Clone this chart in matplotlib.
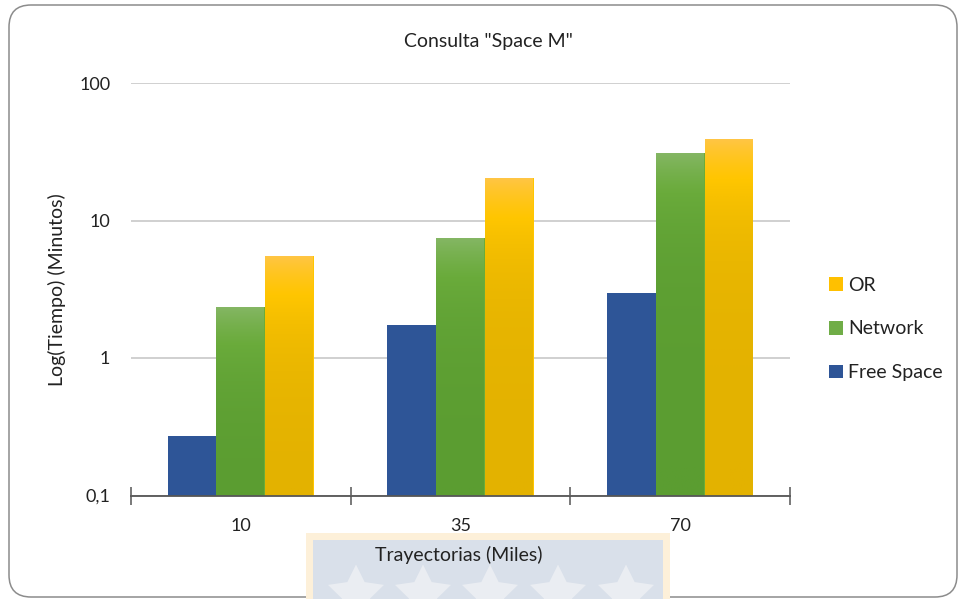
import numpy as np
import matplotlib
matplotlib.use("Agg")
import matplotlib.pyplot as plt
from matplotlib.patches import FancyBboxPatch, Rectangle, Patch
from matplotlib.colors import LinearSegmentedColormap

plt.rcParams['font.family'] = ['Lato', 'DejaVu Sans']

categories = ["10", "35", "70"]
series_names = ["Free Space", "Network", "OR"]
free_space = [0.273, 1.74, 2.95]
network = [2.36, 7.50, 31.1]
or_values = [5.52, 20.3, 39.0]
y_ticks = [0.1, 1, 10, 100]
y_tick_labels = ["0,1", "1", "10", "100"]
base = 0.1

W, H = 961, 599
fig = plt.figure(figsize=(W / 100, H / 100), dpi=100)

# background layer in pixel coordinates: chart frame and crest behind the axis title
bg = fig.add_axes([0, 0, 1, 1], zorder=0)
bg.set_xlim(0, W)
bg.set_ylim(H, 0)
bg.axis("off")
bg.add_patch(FancyBboxPatch((9, 5), 948, 592, boxstyle="round,pad=0,rounding_size=22",
                            facecolor="white", edgecolor="#8c8c8c", linewidth=1.1))
bg.add_patch(Rectangle((306, 533), 364, 80, facecolor="#fdf0d9", edgecolor="none"))
bg.add_patch(Rectangle((313, 540), 350, 80, facecolor="#d9e0ea", edgecolor="none"))
star_x = [356, 423, 490, 558, 626]
bg.scatter(star_x, [594] * len(star_x), marker=(5, 1, 0), s=1800,
           color="#eaedf2", edgecolors="none")

ax = fig.add_axes([131 / W, 1 - 495.5 / H, (790 - 131) / W, (495.5 - 83) / H], zorder=1)
ax.patch.set_alpha(0)
ax.set_yscale("log")

x = np.arange(len(categories))
w = 1 / 4.5

green_cmap = LinearSegmentedColormap.from_list("g", ["#5b9d31", "#6aab3b", "#86b766"])
gold_cmap = LinearSegmentedColormap.from_list("o", ["#e3b200", "#ffc600", "#ffc547"])
grad = np.linspace(0, 1, 256).reshape(-1, 1)


def gradient_bars(xpos, vals, cmap, label):
    heights = np.asarray(vals) - base
    bars = ax.bar(xpos, heights, width=w, bottom=base, color=cmap(0.5), label=label,
                  edgecolor="none", zorder=2)
    for b in bars:
        x0 = b.get_x()
        x1 = x0 + b.get_width()
        y0 = b.get_y()
        y1 = y0 + b.get_height()
        im = ax.imshow(grad, cmap=cmap, origin="lower", aspect="auto",
                       extent=(x0, x1, y0, y1), zorder=2.1, interpolation="bilinear")
        im.set_clip_path(b)
    return bars


ax.bar(x - w, np.asarray(free_space) - base, width=w, bottom=base, color="#2e5597",
       label=series_names[0], edgecolor="none", zorder=2)
gradient_bars(x, network, green_cmap, series_names[1])
gradient_bars(x + w, or_values, gold_cmap, series_names[2])
ax.set_xlim(-0.5, len(categories) - 0.5)
ax.set_ylim(0.1, 100)

# y axis: gridlines only
ax.set_yticks(y_ticks)
ax.set_yticklabels(y_tick_labels)
ax.yaxis.set_minor_locator(matplotlib.ticker.NullLocator())
ax.tick_params(axis="y", which="both", length=0, pad=15, labelsize=13, labelcolor="#222222")
ax.grid(axis="y", color="#c4c4c4", linewidth=1.1, zorder=0)
ax.set_axisbelow(True)

# x axis: boundary ticks crossing the line, small inner ticks at categories
ax.set_xticks(np.arange(len(categories) + 1) - 0.5)
ax.set_xticklabels([])
ax.set_xticks(x, minor=True)
ax.set_xticklabels(categories, minor=True)
ax.tick_params(axis="x", which="major", direction="inout", length=13, width=1.1, color="#555555")
ax.tick_params(axis="x", which="minor", direction="in", length=6, width=1.1, color="#333333",
               pad=16, labelsize=13, labelcolor="#222222")

for s in ["top", "right", "left"]:
    ax.spines[s].set_visible(False)
ax.spines["bottom"].set_color("#555555")
ax.spines["bottom"].set_linewidth(1.3)
ax.spines["bottom"].set_zorder(3)

fig.text(488 / W, 1 - 42 / H, 'Consulta "Space M"', ha="center", va="center",
         fontsize=14, color="#222222")
fig.text(459 / W, 1 - 555 / H, "Trayectorias (Miles)", ha="center", va="center",
         fontsize=14, color="#222222", zorder=5)
fig.text(57 / W, 1 - 290 / H, "Log(Tiempo) (Minutos)", ha="center", va="center",
         rotation=90, fontsize=14, color="#222222")

order = [2, 1, 0]
leg_colors = ["#ffc000", "#70ad47", "#2e5597"]
leg_handles = [Patch(facecolor=c, edgecolor="none") for c in leg_colors]
fig.legend(leg_handles, [series_names[i] for i in order], loc="center left",
           bbox_to_anchor=(829 / W, 1 - 329 / H), frameon=False, fontsize=14,
           borderpad=0, borderaxespad=0, handlelength=0.7, handleheight=0.7,
           handletextpad=0.3, labelspacing=1.38, labelcolor="#222222")

fig.savefig("out.png", dpi=100)
